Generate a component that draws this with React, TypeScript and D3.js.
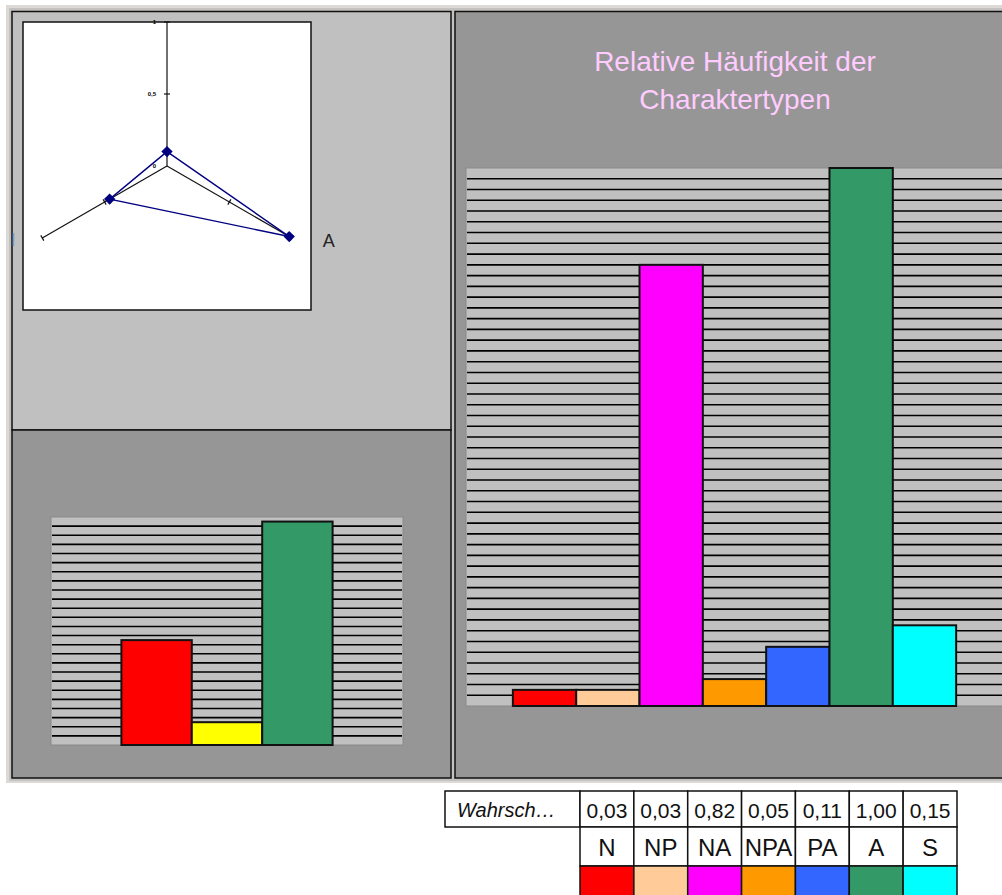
import React from "react";
import * as d3 from "d3";

// ---- data ----
const categories = ["N", "NP", "NA", "NPA", "PA", "A", "S"];
const probabilities = [0.03, 0.03, 0.82, 0.05, 0.11, 1.0, 0.15];
const categoryColors = ["#ff0000", "#ffcc99", "#ff00ff", "#ff9900", "#3366ff", "#339966", "#00ffff"];
const rowHeader = "Wahrsch…";
const titleLines = ["Relative Häufigkeit der", "Charaktertypen"];

const smallCategories = ["N", "P", "A"];
const smallValues = [0.46, 0.1, 0.98];
const smallColors = ["#ff0000", "#ffff00", "#339966"];

// radar: axes up, lower-left, lower-right
const radarAxes = ["P", "N", "A"];
const radarValues = [0.1, 0.46, 0.98];
const radarTicks = [0.5, 1.0];
const radarTickLabels = ["0", "0,5", "1"];
const radarShownLabels = ["A"];

const mainGridStep = 0.02;
const smallGridStep = 0.04;

const fmt = (v: number) => d3.format(".2f")(v).replace(".", ",");

export default function App() {
  // main chart geometry
  const mX = d3.scaleBand<string>().domain(categories).range([466, 1003]).paddingInner(0).paddingOuter(0.74);
  const mY = d3.scaleLinear().domain([0, 1]).range([706, 168]);
  const mGrid = d3.range(mainGridStep, 1 - 1e-9, mainGridStep);

  // small chart
  const sX = d3.scaleBand<string>().domain(smallCategories).range([51, 403]).paddingInner(0).paddingOuter(1.0);
  const sY = d3.scaleLinear().domain([0, 1]).range([745, 517]);
  const sGrid = d3.range(smallGridStep, 1 - 1e-9, smallGridStep);

  // radar
  const cx = 167, cy = 166;
  const rR = d3.scaleLinear().domain([0, 1]).range([0, 144]);
  const angles = [-90, 150, 30].map((a) => (a * Math.PI) / 180);
  const pt = (i: number, v: number): [number, number] => [cx + Math.cos(angles[i]) * rR(v), cy + Math.sin(angles[i]) * rR(v)];
  const radarPath = d3.line()(radarValues.map((v, i) => pt(i, v)).concat([pt(0, radarValues[0])]));
  const marker = d3.symbol().type(d3.symbolSquare).size(64)();

  // table
  const tX = d3.scaleBand<string>().domain(categories).range([580, 957]);
  const rows = [791, 827, 866, 905];

  return (
    <svg width={1002} height={895} style={{ position: "absolute", left: 0, top: 0 }} fontFamily="'Liberation Sans', Arial, sans-serif">
      <rect x={0} y={0} width={1002} height={895} fill="#ffffff" />
      <rect x={6} y={5} width={1000} height={778} fill="#dcd9d6" />
      <rect x={9} y={8} width={1000} height={773} fill="#c4c2c0" />

      {/* top-left panel */}
      <rect x={12} y={11.5} width={439} height={418.5} fill="#c0c0c0" stroke="#111" strokeWidth={1.5} />
      <rect x={23} y={22} width={288} height={288} fill="#ffffff" stroke="#111" strokeWidth={1.5} />
      {angles.map((_, i) => {
        const [x2, y2] = pt(i, 1);
        return <line key={"ax" + i} x1={cx} y1={cy} x2={x2} y2={y2} stroke="#111" strokeWidth={1.2} />;
      })}
      {angles.map((a, i) =>
        radarTicks.map((t) => {
          const [x, y] = pt(i, t);
          const px = -Math.sin(a) * 3, py = Math.cos(a) * 3;
          return <line key={"tk" + i + t} x1={x - px} y1={y - py} x2={x + px} y2={y + py} stroke="#111" strokeWidth={1.2} />;
        })
      )}
      {[0, 0.5, 1].map((t, j) => (
        <text key={"tl" + j} x={156} y={pt(0, t)[1] + 2} fontSize={6} fontWeight="bold" textAnchor="end" fill="#000">
          {radarTickLabels[j]}
        </text>
      ))}
      <path d={radarPath || ""} fill="none" stroke="#000080" strokeWidth={1.4} />
      {radarValues.map((v, i) => {
        const [x, y] = pt(i, v);
        return <path key={"mk" + i} d={marker || ""} transform={`translate(${x},${y}) rotate(45)`} fill="#000080" />;
      })}
      {radarAxes.map((lab, i) =>
        radarShownLabels.includes(lab) ? (
          <text key={"rl" + i} x={pt(i, 1)[0] + 31} y={pt(i, 1)[1] + 9} fontSize={18} fill="#222">
            {lab}
          </text>
        ) : null
      )}
      <line x1={13.5} y1={233} x2={13.5} y2={246} stroke="#6f9fcf" strokeWidth={1.5} />

      {/* bottom-left panel */}
      <rect x={12} y={430} width={439} height={348} fill="#969696" stroke="#111" strokeWidth={1.5} />
      <rect x={51} y={517} width={352} height={228} fill="#c0c0c0" stroke="#8a8a8a" strokeWidth={1} />
      {sGrid.map((g, i) => (
        <line key={"sg" + i} x1={52} x2={402} y1={sY(g)} y2={sY(g)} stroke="#000" strokeWidth={1.6} />
      ))}
      {smallCategories.map((c, i) => (
        <rect key={"sb" + c} x={sX(c)!} y={sY(smallValues[i])} width={sX.bandwidth()} height={sY(0) - sY(smallValues[i])} fill={smallColors[i]} stroke="#111" strokeWidth={2} />
      ))}

      {/* right panel */}
      <rect x={455} y={11.5} width={560} height={766.5} fill="#969696" stroke="#111" strokeWidth={1.5} />
      {titleLines.map((l, i) => (
        <text key={"tt" + i} x={735} y={71 + i * 38} fontSize={28} textAnchor="middle" fill="#ffccff">
          {l}
        </text>
      ))}
      <rect x={466} y={168} width={540} height={538} fill="#c0c0c0" stroke="#8a8a8a" strokeWidth={1} />
      {mGrid.map((g, i) => (
        <line key={"mg" + i} x1={467} x2={1004} y1={mY(g)} y2={mY(g)} stroke="#000" strokeWidth={1.6} />
      ))}
      {categories.map((c, i) => (
        <rect key={"mb" + c} x={mX(c)!} y={mY(probabilities[i])} width={mX.bandwidth()} height={mY(0) - mY(probabilities[i])} fill={categoryColors[i]} stroke="#111" strokeWidth={2} />
      ))}

      {/* table */}
      <rect x={445} y={rows[0]} width={135} height={rows[1] - rows[0]} fill="#fff" stroke="#111" strokeWidth={1.5} />
      <text x={457} y={rows[0] + 26} fontSize={20} fontStyle="italic" fill="#111">
        {rowHeader}
      </text>
      {categories.map((c, i) => (
        <g key={"tb" + c}>
          <rect x={tX(c)!} y={rows[0]} width={tX.bandwidth()} height={rows[1] - rows[0]} fill="#fff" stroke="#111" strokeWidth={1.5} />
          <text x={tX(c)! + tX.bandwidth() / 2} y={rows[0] + 27} fontSize={21} textAnchor="middle" fill="#111">
            {fmt(probabilities[i])}
          </text>
          <rect x={tX(c)!} y={rows[1]} width={tX.bandwidth()} height={rows[2] - rows[1]} fill="#fff" stroke="#111" strokeWidth={1.5} />
          <text x={tX(c)! + tX.bandwidth() / 2} y={rows[1] + 29} fontSize={24} textAnchor="middle" fill="#111">
            {c}
          </text>
          <rect x={tX(c)!} y={rows[2]} width={tX.bandwidth()} height={rows[3] - rows[2]} fill={categoryColors[i]} stroke="#111" strokeWidth={1.5} />
        </g>
      ))}
    </svg>
  );
}
